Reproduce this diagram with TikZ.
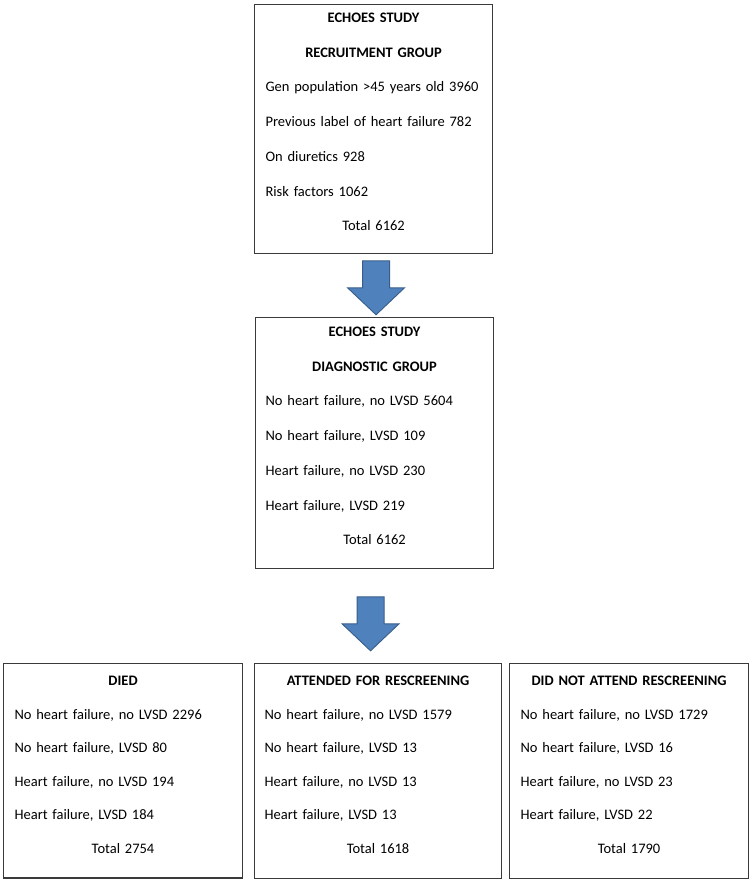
\documentclass[tikz,border=0pt]{standalone}
\usepackage{fontspec}
\setmainfont{Carlito}
\usetikzlibrary{calc}

\definecolor{arrowblue}{HTML}{4F81BD}
\definecolor{arrowline}{HTML}{385D8A}
\definecolor{boxline}{HTML}{3A3A3A}

\tikzset{
  box/.style={draw=boxline, line width=1.1pt, anchor=north west, align=left,
    font=\fontsize{14.5}{34.7}\selectfont},
  blockarrow/.style={draw=arrowline, fill=arrowblue, line width=0.9pt, line join=miter},
}
\newcommand{\ctr}[1]{\makebox[\hsize]{#1}}
\newcommand{\lastline}[1]{\rule[-#1]{0pt}{#1}}

\begin{document}
\begin{tikzpicture}[x=1pt,y=-1pt]
    \useasboundingbox (0,0) rectangle (752,883);
    \node[box, text width=216pt, inner xsep=11pt, inner ysep=8.5pt] (rec) at (254,4) {%
      \ctr{\bfseries ECHOES STUDY}\\
      \ctr{\bfseries RECRUITMENT GROUP}\\
      Gen population >45 years old 3960\\
      Previous label of heart failure 782\\
      On diuretics 928\\
      Risk factors 1062\\
      \ctr{Total 6162}\lastline{14pt}};
    \node[box, text width=218pt, inner xsep=10pt, inner ysep=9.5pt] (diag) at (255,317) {%
      \ctr{\bfseries ECHOES STUDY}\\
      \ctr{\bfseries DIAGNOSTIC GROUP}\\
      No heart failure, no LVSD 5604\\
      No heart failure, LVSD 109\\
      Heart failure, no LVSD 230\\
      Heart failure, LVSD 219\\
      \ctr{Total 6162}\lastline{14pt}};
    \node[box, font=\fontsize{14.5}{33.6}\selectfont, text width=217pt, inner xsep=11pt, inner ysep=12.5pt] (died) at (3,663) {%
      \ctr{\bfseries DIED}\\
      No heart failure, no LVSD 2296\\
      No heart failure, LVSD 80\\
      Heart failure, no LVSD 194\\
      Heart failure, LVSD 184\\
      \ctr{Total 2754}\lastline{12pt}};
    \node[box, font=\fontsize{14.5}{33.6}\selectfont, text width=227pt, inner xsep=10pt, inner ysep=12.5pt] (att) at (254,663) {%
      \ctr{\bfseries ATTENDED FOR RESCREENING}\\
      No heart failure, no LVSD 1579\\
      No heart failure, LVSD 13\\
      Heart failure, no LVSD 13\\
      Heart failure, LVSD 13\\
      \ctr{Total 1618}\lastline{12pt}};
    \node[box, font=\fontsize{14.5}{33.6}\selectfont, text width=217pt, inner xsep=11pt, inner ysep=12.5pt] (dna) at (509,663) {%
      \ctr{\bfseries DID NOT ATTEND RESCREENING}\\
      No heart failure, no LVSD 1729\\
      No heart failure, LVSD 16\\
      Heart failure, no LVSD 23\\
      Heart failure, LVSD 22\\
      \ctr{Total 1790}\lastline{12pt}};
    % block arrows between the boxes
    \coordinate (a1) at ($(rec.south)+(2.5,7)$);
    \coordinate (a2) at ($(diag.south)+(-4,28)$);
    \foreach \a in {a1,a2}
      \draw[blockarrow] (\a) ++(-13.5,0) -- ++(0,27) -- ++(-15,0) -- ++(28.5,27)
        -- ++(28.5,-27) -- ++(-15,0) -- ++(0,-27) -- cycle;
\end{tikzpicture}
\end{document}
